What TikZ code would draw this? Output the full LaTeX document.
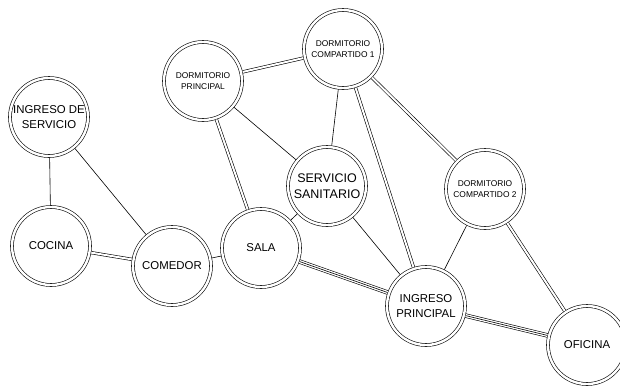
\documentclass[tikz,border=0pt]{standalone}
\usepackage{fontspec}
\setmainfont{Liberation Sans}
\usetikzlibrary{positioning}

\begin{document}
\begin{tikzpicture}[x=1pt, y=-1pt,
      room/.style={circle, draw=black, line width=0.6pt, double,
            double distance=2.4pt, minimum size=78pt, inner sep=0pt,
            outer sep=1.8pt, align=center,
            font=\fontsize{11.4}{15}\selectfont},
      smallroom/.style={room, font=\fontsize{8.4}{11}\selectfont},
      link/.style={draw=black, line width=0.6pt},
      duallink/.style={draw=black, line width=0.6pt, double,
            double distance=2pt},
      triplelink/.style={preaction={draw=black, line width=4.4pt},
            draw=white, line width=3.2pt,
            postaction={draw=black, line width=0.6pt}}]
      \useasboundingbox (0,0) rectangle (620,386);
      % rooms
      \node[room] (ingserv) at (49,117) {INGRESO DE\\SERVICIO};
      \node[room] (cocina) at (51,246) {COCINA};
      \node[room] (comedor) at (172,266) {COMEDOR};
      \node[room] (sala) at (261,248) {SALA};
      \node[room, font=\fontsize{12.5}{16.5}\selectfont] (sanit) at (327,186)
            {SERVICIO\\SANITARIO};
      \node[smallroom] (dormp) at (203,81) {DORMITORIO\\PRINCIPAL};
      \node[smallroom] (dorm1) at (343,49) {DORMITORIO\\COMPARTIDO 1};
      \node[smallroom] (dorm2) at (485,189) {DORMITORIO\\COMPARTIDO 2};
      \node[room] (ingpr) at (426,306) {INGRESO\\PRINCIPAL};
      \node[room] (oficina) at (587,345) {OFICINA};
      % single links
      \draw[link] (ingserv) -- (cocina);
      \draw[link] (ingserv) -- (comedor);
      \draw[link] (comedor) -- (sala);
      \draw[link] (sala) -- (sanit);
      \draw[link] (dormp) -- (sanit);
      \draw[link] (dorm1) -- (sanit);
      \draw[link] (sanit) -- (ingpr);
      \draw[link] (dorm2) -- (ingpr);
      % double links
      \draw[duallink] (cocina) -- (comedor);
      \draw[duallink] (dormp) -- (sala);
      \draw[duallink] (dormp) -- (dorm1);
      \draw[duallink] (dorm1) -- (ingpr);
      \draw[duallink] (dorm1) -- (dorm2);
      \draw[duallink] (dorm2) -- (oficina);
      % triple links
      \draw[triplelink] (sala) -- (ingpr);
      \draw[triplelink] (ingpr) -- (oficina);
\end{tikzpicture}
\end{document}
